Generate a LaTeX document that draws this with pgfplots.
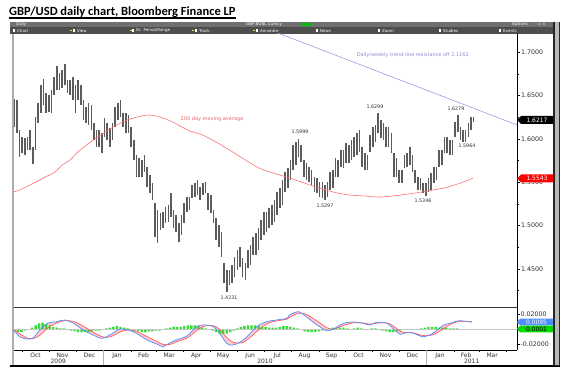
\documentclass[border=0pt]{standalone}
\usepackage{pgfplots}
\usepackage{pgfplotstable}
\pgfplotsset{compat=1.18}
\usepgfplotslibrary{fillbetween}
\usepackage{fontspec}
\setmainfont{DejaVu Sans}
\newfontfamily\titlefont{Carlito}
\definecolor{bargray}{HTML}{5C5C5C}
\definecolor{marred}{HTML}{FF7070}
\definecolor{trendc}{HTML}{9C9CE0}
\definecolor{macdblue}{HTML}{4D8DFF}
\definecolor{macdred}{HTML}{FF5A5A}
\definecolor{histgreen}{HTML}{33DD33}
\definecolor{tbone}{HTML}{707070}
\definecolor{tbtwo}{HTML}{4E4E4E}
\definecolor{lblgray}{HTML}{303030}

\pgfplotstableread{
d hi lo
-9 1.6461 1.6137
-6 1.6449 1.6068
-3 1.6103 1.5791
0 1.6022 1.5837
3 1.6010 1.5814
6 1.6022 1.5872
9 1.6103 1.5872
12 1.5907 1.5710
15 1.6253 1.5872
18 1.6415 1.6184
21 1.6623 1.6299
24 1.6692 1.6392
27 1.6530 1.6299
30 1.6507 1.6311
33 1.6565 1.6299
36 1.6715 1.6507
39 1.6842 1.6565
42 1.6761 1.6565
45 1.6796 1.6588
48 1.6865 1.6623
51 1.6680 1.6530
54 1.6680 1.6507
57 1.6715 1.6449
60 1.6623 1.6299
63 1.6680 1.6449
66 1.6623 1.6392
69 1.6449 1.6218
72 1.6368 1.6184
75 1.6415 1.6161
78 1.6392 1.6103
81 1.6184 1.5987
84 1.6103 1.5907
87 1.6103 1.5907
90 1.6068 1.5837
93 1.6241 1.6022
96 1.6184 1.5987
99 1.6126 1.5907
102 1.6184 1.5987
105 1.6368 1.6137
108 1.6415 1.6218
111 1.6449 1.6253
114 1.6299 1.6137
117 1.6299 1.6068
120 1.6276 1.6068
123 1.6137 1.5907
126 1.5987 1.5756
129 1.5814 1.5560
132 1.5779 1.5560
135 1.5756 1.5560
138 1.5814 1.5618
141 1.5676 1.5445
144 1.5583 1.5375
147 1.5491 1.5294
150 1.5260 1.4867
153 1.5179 1.4798
156 1.5144 1.4948
159 1.5156 1.4971
162 1.5213 1.5029
165 1.5237 1.5040
168 1.5375 1.5098
171 1.5179 1.4971
174 1.5121 1.4925
177 1.5029 1.4809
180 1.5121 1.4890
183 1.5260 1.5029
186 1.5329 1.5156
189 1.5329 1.5179
192 1.5468 1.5317
195 1.5491 1.5329
198 1.5525 1.5352
201 1.5445 1.5294
204 1.5491 1.5352
207 1.5502 1.5375
210 1.5375 1.5179
213 1.5352 1.5144
216 1.5179 1.5029
219 1.5086 1.4832
222 1.5006 1.4752
225 1.4925 1.4636
228 1.4567 1.4336
231 1.4486 1.4231
234 1.4486 1.4313
237 1.4544 1.4336
240 1.4636 1.4405
243 1.4717 1.4486
246 1.4752 1.4521
249 1.4624 1.4405
252 1.4567 1.4370
255 1.4717 1.4509
258 1.4775 1.4544
261 1.4867 1.4660
264 1.4913 1.4660
267 1.4971 1.4717
270 1.5063 1.4832
273 1.5156 1.4890
276 1.5156 1.4925
279 1.5202 1.4971
282 1.5237 1.5006
285 1.5294 1.5040
288 1.5387 1.5121
291 1.5433 1.5202
294 1.5525 1.5237
297 1.5618 1.5387
300 1.5664 1.5433
303 1.5756 1.5525
306 1.5930 1.5641
309 1.5964 1.5699
312 1.5999 1.5791
315 1.5930 1.5733
318 1.5756 1.5560
321 1.5722 1.5525
324 1.5676 1.5502
327 1.5641 1.5468
330 1.5560 1.5387
333 1.5548 1.5375
336 1.5502 1.5329
339 1.5502 1.5317
342 1.5468 1.5297
345 1.5502 1.5329
348 1.5618 1.5410
351 1.5641 1.5433
354 1.5779 1.5560
357 1.5756 1.5560
360 1.5872 1.5676
363 1.5872 1.5664
366 1.5953 1.5722
369 1.5930 1.5722
372 1.5987 1.5756
375 1.6022 1.5791
378 1.6068 1.5814
381 1.6103 1.5849
384 1.5907 1.5676
387 1.5837 1.5641
390 1.5814 1.5641
393 1.6045 1.5849
396 1.6137 1.5907
399 1.6161 1.5964
402 1.6299 1.6068
405 1.6218 1.6010
408 1.6184 1.5987
411 1.6137 1.5907
414 1.6137 1.5907
417 1.6068 1.5837
420 1.5837 1.5560
423 1.5779 1.5560
426 1.5641 1.5491
429 1.5641 1.5491
432 1.5814 1.5664
435 1.5837 1.5676
438 1.5907 1.5699
441 1.5814 1.5618
444 1.5641 1.5491
447 1.5560 1.5410
450 1.5548 1.5410
453 1.5491 1.5375
456 1.5491 1.5346
459 1.5548 1.5387
462 1.5606 1.5410
465 1.5676 1.5491
468 1.5676 1.5525
471 1.5872 1.5676
474 1.5872 1.5699
477 1.6022 1.5837
480 1.6022 1.5837
483 1.5987 1.5814
486 1.5987 1.5814
489 1.6195 1.6022
492 1.6279 1.6080
495 1.6137 1.5987
498 1.6103 1.5964
501 1.6103 1.5964
504 1.6184 1.6022
507 1.6253 1.6103
510 1.6253 1.6195
}\pricetab

\pgfplotstableread{
d v
-10 1.5387
-3 1.5410
11 1.5479
26 1.5560
37 1.5618
45 1.5699
54 1.5756
64 1.5860
82 1.5999
101 1.6126
116 1.6207
130 1.6253
144 1.6276
159 1.6241
172 1.6184
189 1.6091
201 1.6057
215 1.5987
234 1.5872
265 1.5676
280 1.5618
302 1.5548
325 1.5468
351 1.5387
370 1.5352
387 1.5341
406 1.5329
444 1.5375
481 1.5445
509 1.5543
}\matab

\pgfplotstableread{
d v
-10 -0.0011
-3 -0.0101
5 -0.0132
12 -0.0119
20 -0.0011
28 0.0079
39 0.0101
48 0.0124
58 0.0079
69 -0.0011
80 -0.0078
90 -0.0123
99 -0.0078
110 -0.0001
120 -0.0011
129 -0.0055
141 -0.0145
152 -0.0199
159 -0.0236
167 -0.0182
174 -0.0145
186 -0.0092
197 0.0034
205 0.0057
216 0.0034
223 -0.0055
231 -0.0190
238 -0.0213
250 -0.0145
265 0.0034
276 0.0101
287 0.0124
299 0.0147
302 0.0191
312 0.0236
321 0.0168
333 0.0057
344 -0.0020
351 -0.0001
363 0.0079
374 0.0097
385 0.0079
393 0.0057
400 0.0093
412 0.0079
421 -0.0011
427 -0.0069
434 -0.0047
442 -0.0055
453 -0.0101
464 -0.0055
476 0.0057
483 0.0079
494 0.0114
508 0.0095
}\macdtab

\pgfplotstableread{
d v
-10 0.0000
-3 -0.0060
5 -0.0115
12 -0.0128
20 -0.0080
28 0.0010
39 0.0085
48 0.0115
58 0.0105
69 0.0040
80 -0.0040
90 -0.0100
99 -0.0105
110 -0.0040
120 -0.0010
129 -0.0030
141 -0.0100
152 -0.0165
159 -0.0205
167 -0.0205
174 -0.0170
186 -0.0120
197 -0.0020
205 0.0040
216 0.0045
223 0.0000
231 -0.0110
238 -0.0175
250 -0.0175
265 -0.0030
276 0.0070
287 0.0110
299 0.0135
302 0.0160
312 0.0215
321 0.0200
333 0.0110
344 0.0020
351 0.0000
363 0.0050
374 0.0085
385 0.0085
393 0.0068
400 0.0080
412 0.0085
421 0.0030
427 -0.0030
434 -0.0045
442 -0.0050
453 -0.0085
464 -0.0075
476 0.0005
483 0.0060
494 0.0105
508 0.0100
}\sigtab

\pgfplotstableread{
d v
-9 -0.002
-5 -0.004
-1 -0.004
3 -0.002
7 -0.001
11 0.002
15 0.005
19 0.008
23 0.009
27 0.007
31 0.005
35 0.003
39 0.002
43 0.001
47 0.001
51 0.000
55 -0.002
59 -0.003
63 -0.004
67 -0.004
71 -0.004
75 -0.004
79 -0.003
83 -0.002
87 -0.002
91 -0.001
95 0.001
99 0.002
103 0.003
107 0.004
111 0.003
115 0.002
119 0.001
123 -0.001
127 -0.002
131 -0.003
135 -0.004
139 -0.004
143 -0.003
147 -0.003
151 -0.002
155 -0.002
159 -0.001
163 0.001
167 0.002
171 0.003
175 0.003
179 0.003
183 0.004
187 0.005
191 0.005
195 0.005
199 0.004
203 0.002
207 0.001
211 -0.001
215 -0.002
219 -0.004
223 -0.006
227 -0.007
231 -0.006
235 -0.004
239 -0.002
243 0.001
247 0.003
251 0.004
255 0.005
259 0.005
263 0.005
267 0.004
271 0.003
275 0.003
279 0.002
283 0.002
287 0.002
291 0.003
295 0.004
299 0.004
303 0.003
307 0.002
311 0.001
315 -0.001
319 -0.003
323 -0.004
327 -0.004
331 -0.004
335 -0.003
339 -0.002
343 0.000
347 0.001
351 0.002
355 0.002
359 0.002
363 0.002
367 0.001
371 0.000
375 0.001
379 0.002
383 0.001
387 0.000
391 -0.001
395 0.001
399 0.001
403 -0.001
407 -0.002
411 -0.003
415 -0.004
419 -0.004
423 -0.003
427 -0.002
431 -0.001
435 0.000
439 -0.001
443 -0.001
447 0.000
451 0.001
455 0.002
459 0.003
463 0.003
467 0.003
471 0.002
475 0.002
479 0.002
483 0.001
487 0.001
491 0.001
495 0.000
499 0.000
503 0.000
507 0.000
}\histtab

\begin{document}
\begin{tikzpicture}[x=1pt,y=1pt]
\path (0,0) rectangle (568,375);
% title
\node[inner sep=0pt, anchor=base west, font=\titlefont\bfseries\fontsize{12.5}{14}\selectfont] (ttl) at (9,359.5) {GBP/USD daily chart, Bloomberg Finance LP};
\draw[line width=1.1pt] (9,357) -- (ttl.east |- 0,357);
% toolbar
\fill[tbone] (10,348) rectangle (553,353);
\fill[tbtwo] (10,341) rectangle (553,348);
\draw[black!70, line width=0.4pt] (10,348) -- (553,348);
\begin{scope}[font=\fontsize{4}{4.5}\selectfont, text=white!85]
\node[anchor=west, inner sep=0pt] at (16,350.5) {Daily};
\node[anchor=west, inner sep=0pt] at (246,350.5) {GBP BGNL Curncy};
\fill[green!75!black] (302,349) rectangle (311,352.3);
\node[anchor=west, inner sep=0pt] at (512,350.5) {Options};
\node[anchor=west, inner sep=0pt] at (535,350.5) {– ▫ ×};
\foreach \xx/\tt in {17/Chart, 77/View, 136/{Dr. Period/Range}, 199/Track, 260/Annotate, 320/News, 382/Zoom, 443/Studies, 503/Events}{
  \fill[white!70] (\xx-4,343.3) rectangle (\xx-1.8,345.5);
  \node[anchor=west, inner sep=0pt] at (\xx,344.4) {\tt};
}
\foreach \xx in {70,130,192,253}{\fill[yellow!80!orange] (\xx,343.8) rectangle (\xx+1.5,345.2);}
\end{scope}
% price panel
\begin{axis}[
  name=main, scale only axis, width=504pt, height=273pt,
  at={(13pt,68pt)}, anchor=south west,
  xmin=-10.5, xmax=559, ymin=1.40591, ymax=1.7211,
  axis x line=none, axis y line*=right,
  axis line style={black, line width=0.5pt},
  ytick={1.45,1.5,1.55,1.6,1.65,1.7},
  minor ytick={1.425,1.475,1.525,1.575,1.625,1.675},
  tick align=outside, major tick length=3pt, minor tick length=2pt,
  tick style={black, line width=0.5pt},
  yticklabel pos=right, scaled y ticks=false,
  yticklabel style={font=\fontsize{6.3}{7}\selectfont, text=lblgray, anchor=west, inner sep=0.8pt,
    /pgf/number format/.cd, fixed, fixed zerofill, precision=4, assume math mode=true},
]
\addplot[draw=none, mark=none, forget plot, error bars/.cd, y dir=both, y explicit, error mark=none,
  error bar style={draw=bargray, line width=1.6pt}]
  table[x=d, y expr=(\thisrow{hi}+\thisrow{lo})/2, y error expr=(\thisrow{hi}-\thisrow{lo})/2] {\pricetab};
\addplot[marred, line width=0.6pt, smooth, mark=none] table[x=d, y=v] {\matab};
\addplot[trendc, line width=0.6pt, mark=none] coordinates {(250,1.7375) (559,1.6161)};
\begin{scope}[font=\fontsize{4.8}{5}\selectfont, text=lblgray, inner sep=0pt]
\node at (axis cs:313.8,1.6083) {1.5999};
\node at (axis cs:398.5,1.6372) {1.6299};
\node at (axis cs:490,1.6345) {1.6279};
\node at (axis cs:502.5,1.5922) {1.5964};
\node at (axis cs:452.8,1.5287) {1.5346};
\node at (axis cs:342,1.5225) {1.5297};
\node at (axis cs:233.6,1.4163) {1.4231};
\end{scope}
\node[font=\fontsize{5}{6}\selectfont, text=marred!90!black, inner sep=0pt] at (axis cs:214.4,1.6226) {200 day moving average};
\node[font=\fontsize{5}{6}\selectfont, text=trendc!90!black, inner sep=0pt, anchor=east] at (axis cs:504.7,1.6969) {Daily/weekly trend-line resistance off 2.1162};
\end{axis}
% MACD panel
\begin{axis}[
  name=macd, scale only axis, width=504pt, height=43pt,
  at={(13pt,25pt)}, anchor=south west,
  xmin=-10.5, xmax=559, ymin=-0.0280, ymax=0.0299,
  axis x line*=bottom, axis y line*=right,
  axis line style={black, line width=0.5pt},
  xtick={15,45.5,76,107,137,166,196.5,227,257.5,288,319,349.5,380,410.5,441,472,501.5,531},
  xticklabels={Oct,Nov,Dec,Jan,Feb,Mar,Apr,May,Jun,Jul,Aug,Sep,Oct,Nov,Dec,Jan,Feb,Mar},
  minor xtick={0,31,61,92,123,151,182,212,243,273,304,335,365,396,426,457,488,516,547},
  major x tick style={draw=none},
  xticklabel style={font=\fontsize{6}{7}\selectfont, text=lblgray, inner sep=0pt, yshift=-0.5pt},
  ytick={-0.02,0.02}, minor ytick={0},
  tick align=outside, major tick length=2.5pt, minor tick length=2.5pt,
  tick style={black, line width=0.5pt},
  yticklabel pos=right, scaled y ticks=false,
  yticklabel style={font=\fontsize{6.3}{7}\selectfont, text=lblgray, anchor=west, inner sep=0.8pt,
    /pgf/number format/.cd, fixed, fixed zerofill, precision=5, assume math mode=true},
]
\addplot[ybar, bar width=2.4pt, fill=histgreen, draw=none] table[x=d, y=v] {\histtab};
\addplot[gray!45, line width=0.4pt, mark=none] coordinates {(-10.5,0) (559,0)};
\addplot[name path=mb, draw=none, smooth, mark=none] table[x=d, y=v] {\macdtab};
\addplot[name path=mr, draw=none, smooth, mark=none] table[x=d, y=v] {\sigtab};
\addplot[fill=macdred!30, draw=none] fill between[of=mb and mr];
\addplot[macdred, line width=0.7pt, smooth, mark=none] table[x=d, y=v] {\sigtab};
\addplot[macdblue, line width=0.7pt, smooth, mark=none] table[x=d, y=v] {\macdtab};
\end{axis}
% frame lines
\draw[black!80, line width=0.5pt] (13,68) -- (517,68);
\fill[gray!65] (12.3,9.5) rectangle (14,341);
\fill[black] (10,8.2) rectangle (560,9.8);
\fill[black!85] (553,9) rectangle (560,353);
\fill[gray!55] (554.5,9.8) rectangle (558.5,353);
\draw[gray!60, line width=0.5pt] (103.7,9.8) -- (103.7,25);
\draw[gray!60, line width=0.5pt] (426.7,9.8) -- (426.7,25);
\begin{scope}[font=\fontsize{6}{7}\selectfont, text=lblgray, inner sep=0pt]
\node at (58.3,13.2) {2009};
\node at (265,13.2) {2010};
\node at (471.7,13.2) {2011};
\end{scope}
% value flags
\begin{scope}[font=\fontsize{6}{7}\selectfont, inner sep=0pt]
\fill[black] (517,255) -- (521,259) -- (553,259) -- (553,251) -- (521,251) -- cycle;
\node[text=white] at (537,255) {1.6217};
\fill[red] (517,196.5) -- (521,200.5) -- (553,200.5) -- (553,192.5) -- (521,192.5) -- cycle;
\node[text=white] at (537,196.5) {1.5543};
\fill[macdblue] (517,53) -- (520,56.3) -- (553,56.3) -- (553,49.7) -- (520,49.7) -- cycle;
\node[text=white] at (536.5,53) {0.0095};
\fill[green!85!black] (517,46) -- (520,49.3) -- (553,49.3) -- (553,42.7) -- (520,42.7) -- cycle;
\node[text=black] at (536.5,46) {0.0001};
\end{scope}
\end{tikzpicture}
\end{document}
